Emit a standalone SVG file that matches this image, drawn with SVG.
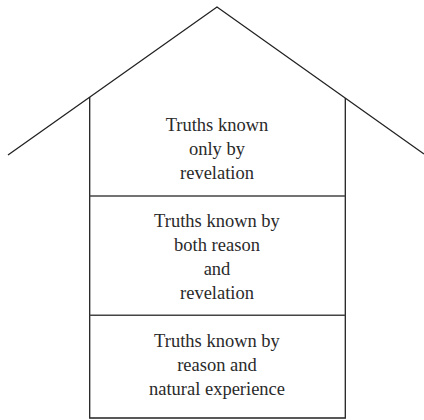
<svg xmlns="http://www.w3.org/2000/svg" width="424" height="420" viewBox="0 0 424 420">
<style>
.ln{fill:none;stroke:#222;stroke-width:1.3;stroke-linecap:butt;stroke-linejoin:miter}
.dv{fill:none;stroke:#444;stroke-width:1.6}
.t{font-family:'Liberation Serif','Times New Roman',serif;font-size:18.5px;fill:#2a2a2a;text-anchor:middle}
</style>
<rect width="424" height="420" fill="#fff"/>
<g id="roof">
<polyline class="ln" points="8,155 217,7 424,154"/>
</g>
<g id="walls">
<polyline class="ln" points="89.7,97 89.7,418 345.3,418 345.3,98"/>
</g>
<g id="top-box" class="t">
<text x="217" y="131">Truths known</text>
<text x="217" y="155">only by</text>
<text x="217" y="179">revelation</text>
</g>
<g id="middle-box" class="t">
<line class="dv" x1="89.7" y1="196" x2="345.3" y2="196"/>
<text x="217" y="227">Truths known by</text>
<text x="217" y="251">both reason</text>
<text x="217" y="275">and</text>
<text x="217" y="299">revelation</text>
</g>
<g id="bottom-box" class="t">
<line class="dv" x1="89.7" y1="315.3" x2="345.3" y2="315.3"/>
<text x="217" y="347">Truths known by</text>
<text x="217" y="371">reason and</text>
<text x="217" y="395">natural experience</text>
</g>
</svg>
